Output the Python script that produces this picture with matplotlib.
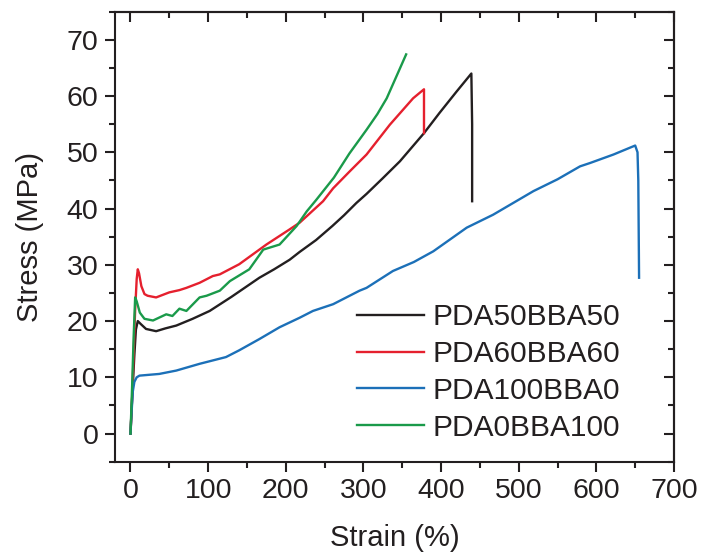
import matplotlib
matplotlib.use("Agg")
import matplotlib.pyplot as plt
from matplotlib.ticker import MultipleLocator

plt.rcParams['font.family'] = ['Liberation Sans', 'DejaVu Sans']

labels = ["PDA50BBA50", "PDA60BBA60", "PDA100BBA0", "PDA0BBA100"]
colors = ["#231f20", "#e5202e", "#1c70b8", "#1a9a4a"]

x_black = [0, 2, 5, 7, 9.4, 13, 20, 33, 45, 59, 80, 102, 130, 166, 185, 205, 218, 239, 260, 275, 291, 304, 325, 347, 378, 398, 420, 439, 440, 440]
y_black = [0, 6, 14, 18.5, 20.0, 19.5, 18.6, 18.2, 18.7, 19.2, 20.4, 21.8, 24.3, 27.7, 29.2, 30.9, 32.3, 34.4, 36.9, 38.8, 41.0, 42.6, 45.4, 48.4, 53.4, 57.0, 60.8, 64.0, 55.0, 41.3]

x_red = [0, 2, 4, 6, 8, 9.4, 11, 14, 18, 22, 33, 50, 63, 72, 89, 106, 115, 140, 175, 205, 218, 248, 261, 283, 304, 334, 364, 378, 378]
y_red = [0, 6, 14, 22, 27.5, 29.2, 28.5, 26.2, 24.8, 24.5, 24.2, 25.1, 25.5, 25.9, 26.8, 28.0, 28.3, 30.1, 33.6, 36.3, 37.5, 41.3, 43.6, 46.7, 49.6, 54.9, 59.6, 61.2, 53.4]

x_blue = [0, 1.5, 3, 5, 8, 11.6, 20, 37, 59, 89, 123, 140, 166, 192, 218, 235, 261, 295, 304, 338, 365, 390, 433, 467, 519, 550, 579, 592, 622, 650, 653, 654, 655]
y_blue = [0, 4, 7.5, 9.2, 10.0, 10.3, 10.4, 10.6, 11.2, 12.4, 13.6, 14.8, 16.8, 18.9, 20.6, 21.8, 23.0, 25.4, 25.9, 28.9, 30.5, 32.4, 36.6, 38.9, 43.1, 45.2, 47.5, 48.1, 49.6, 51.2, 50.0, 45.0, 27.7]

x_green = [0, 2, 4, 6, 8, 12, 18, 29, 46, 54, 63, 72, 89, 98, 115, 128, 153, 171, 192, 214, 227, 239, 262, 282, 304, 318, 330, 347, 355]
y_green = [0, 8, 17, 24.2, 23.5, 21.5, 20.4, 20.1, 21.2, 20.9, 22.2, 21.8, 24.2, 24.5, 25.4, 27.1, 29.2, 32.7, 33.6, 36.9, 39.5, 41.5, 45.5, 49.8, 54.0, 56.8, 59.6, 64.9, 67.4]

xs = [x_black, x_red, x_blue, x_green]
ys = [y_black, y_red, y_blue, y_green]

fig = plt.figure(figsize=(7.01, 5.54), dpi=100)
ax = fig.add_axes([0.164, 0.1666, 0.7975, 0.8124])

for x, y, c, l in zip(xs, ys, colors, labels):
    ax.plot(x, y, color=c, lw=1.7, label=l)

ax.set_xlim(-20, 700)
ax.set_ylim(-5, 75)
ax.xaxis.set_major_locator(MultipleLocator(100))
ax.xaxis.set_minor_locator(MultipleLocator(50))
ax.yaxis.set_major_locator(MultipleLocator(10))
ax.yaxis.set_minor_locator(MultipleLocator(5))

axc = "#231f20"
for s in ax.spines.values():
    s.set_linewidth(1.5)
    s.set_color(axc)

ax.tick_params(which='both', direction='out', top=False, right=False, color=axc,
               labelsize=20.5, labelcolor=axc, width=1.5, pad=5)
ax.tick_params(which='major', length=7)
ax.tick_params(which='minor', length=4)

# mirrored inward ticks on top/right
axt = ax.secondary_xaxis('top')
axt.xaxis.set_major_locator(MultipleLocator(100))
axt.xaxis.set_minor_locator(MultipleLocator(50))
axt.tick_params(which='both', direction='in', labeltop=False, color=axc, width=1.5)
axt.tick_params(which='major', length=7)
axt.tick_params(which='minor', length=4)
axr = ax.secondary_yaxis('right')
axr.yaxis.set_major_locator(MultipleLocator(10))
axr.yaxis.set_minor_locator(MultipleLocator(5))
axr.tick_params(which='both', direction='in', labelright=False, color=axc, width=1.5)
axr.tick_params(which='major', length=7)
axr.tick_params(which='minor', length=4)
for sp in list(axt.spines.values()) + list(axr.spines.values()):
    sp.set_linewidth(1.5)
    sp.set_color(axc)

ax.set_xlabel("Strain (%)", fontsize=21, color=axc, labelpad=14)
ax.set_ylabel("Stress (MPa)", fontsize=21, color=axc, labelpad=16)

leg = ax.legend(loc='lower right', frameon=False, fontsize=21.5, handlelength=2.27,
                handletextpad=0.26, labelspacing=0.30, borderpad=0, borderaxespad=0,
                bbox_to_anchor=(0.903, 0.044))
for t in leg.get_texts():
    t.set_color(axc)

fig.savefig("out.png", dpi=100)
